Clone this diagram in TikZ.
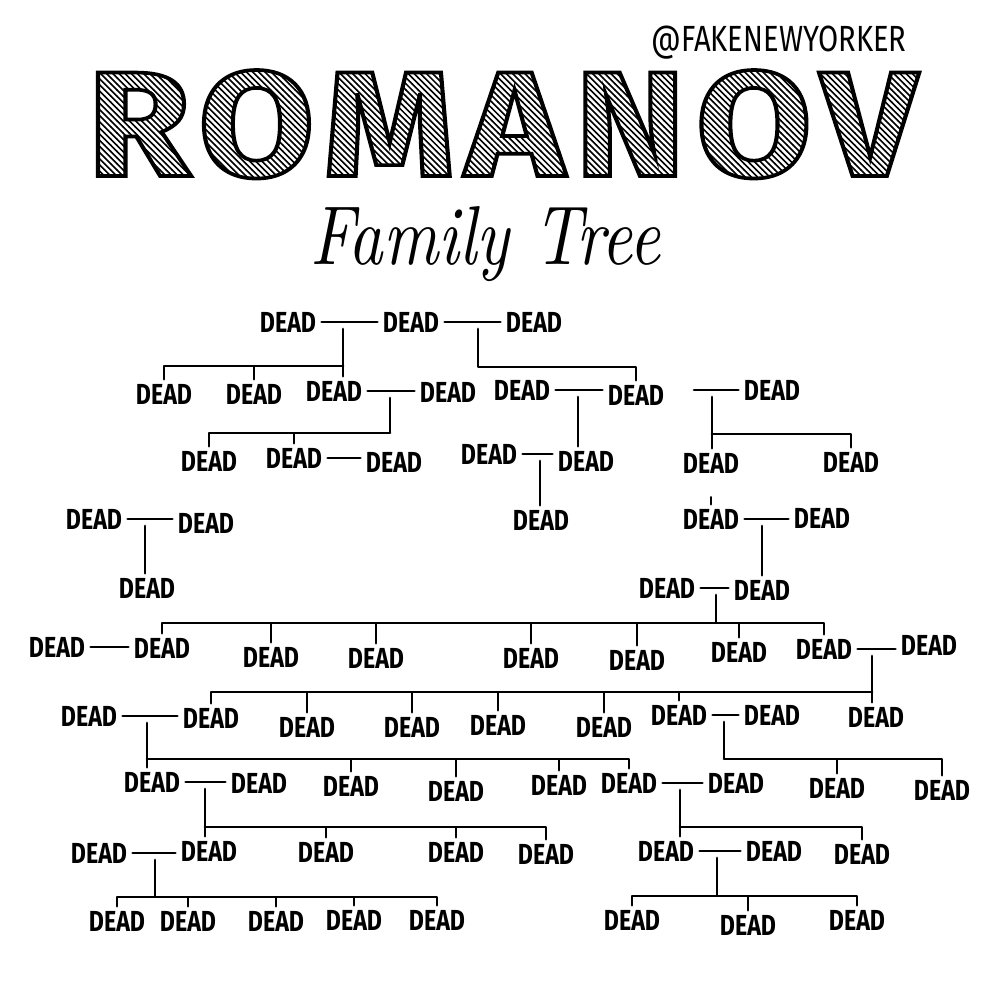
\documentclass[tikz,border=0pt]{standalone}
\usepackage{fontspec}
\usepackage{graphicx}
\usetikzlibrary{positioning,patterns}
\newfontfamily\deadfont[FakeStretch=0.8]{Fira Sans}
\newfontfamily\titlefont[LetterSpace=6]{Fira Sans}
\pgfdeclarepatternformonly{hatch}{\pgfqpoint{-1pt}{-1pt}}{\pgfqpoint{4.5pt}{4.5pt}}{\pgfqpoint{3.5pt}{3.5pt}}
    {\pgfsetlinewidth{0.9pt}\pgfpathmoveto{\pgfqpoint{-0.1pt}{3.6pt}}\pgfpathlineto{\pgfqpoint{3.6pt}{-0.1pt}}\pgfusepath{stroke}}
\newcommand\hatchtext[1]{{\pgfsetfillpattern{hatch}{black}\special{pdf:literal direct 2 Tr 2.2 w 0 G}#1\special{pdf:literal direct 0 Tr}}}

\begin{document}
\begin{tikzpicture}[x=0.02cm, y=-0.02cm,
            dead/.style={font=\deadfont\bfseries\fontsize{16.5}{18}\selectfont,
                         inner xsep=3pt, inner ysep=2.5pt},
            line/.style={line width=1.6pt, line cap=round, line join=round},
            title/.style={anchor=base, inner sep=0pt}
        ]
            \useasboundingbox (0,0) rectangle (1000,1000);

            \node[title] (tag) at (779,52)
                {\resizebox{5.1cm}{!}{\deadfont @FAKENEWYORKER}};
            \node[title] (romanov) at (502,176)
                {\resizebox{16.6cm}{2.12cm}{\titlefont\bfseries\fontsize{90}{90}\selectfont
                 \hatchtext{ROMANOV}}};
            \node[title] (sub) at (485,264)
                {\resizebox{7.0cm}{1.16cm}{\itshape Family Tree}};

            \node[dead] (a1) at (288,322) {DEAD};
            \node[dead] (a2) at (411,322) {DEAD};
            \node[dead] (a3) at (534,322) {DEAD};

            \node[dead] (b1) at (164,394) {DEAD};
            \node[dead] (b2) at (254,394) {DEAD};
            \node[dead] (b3) at (334,391) {DEAD};
            \node[dead] (b4) at (448,392) {DEAD};
            \node[dead] (b5) at (522,390) {DEAD};
            \node[dead] (b6) at (636,395) {DEAD};
            \node[dead] (b7) at (772,390) {DEAD};

            \node[dead] (c1) at (209,461) {DEAD};
            \node[dead] (c2) at (294,458) {DEAD};
            \node[dead] (c3) at (394,462) {DEAD};
            \node[dead] (c4) at (489,454) {DEAD};
            \node[dead] (c5) at (586,461) {DEAD};
            \node[dead] (c6) at (711,463) {DEAD};
            \node[dead] (c7) at (851,462) {DEAD};

            \node[dead] (d1) at (94,519)  {DEAD};
            \node[dead] (d2) at (206,523) {DEAD};
            \node[dead] (d3) at (541,520) {DEAD};
            \node[dead] (d4) at (711,519) {DEAD};
            \node[dead] (d5) at (822,518) {DEAD};

            \node[dead] (e1) at (147,588) {DEAD};
            \node[dead] (e2) at (667,588) {DEAD};
            \node[dead] (e3) at (762,590) {DEAD};

            \node[dead] (f1) at (57,647)  {DEAD};
            \node[dead] (f2) at (162,648) {DEAD};
            \node[dead] (f3) at (271,657) {DEAD};
            \node[dead] (f4) at (376,658) {DEAD};
            \node[dead] (f5) at (531,658) {DEAD};
            \node[dead] (f6) at (637,660) {DEAD};
            \node[dead] (f7) at (739,652) {DEAD};
            \node[dead] (f8) at (824,649) {DEAD};
            \node[dead] (f9) at (929,645) {DEAD};

            \node[dead] (g1) at (89,716)  {DEAD};
            \node[dead] (g2) at (211,718) {DEAD};
            \node[dead] (g3) at (307,727) {DEAD};
            \node[dead] (g4) at (412,727) {DEAD};
            \node[dead] (g5) at (498,725) {DEAD};
            \node[dead] (g6) at (604,727) {DEAD};
            \node[dead] (g7) at (679,715) {DEAD};
            \node[dead] (g8) at (772,715) {DEAD};
            \node[dead] (g9) at (876,717) {DEAD};

            \node[dead] (h1) at (152,782) {DEAD};
            \node[dead] (h2) at (259,783) {DEAD};
            \node[dead] (h3) at (351,786) {DEAD};
            \node[dead] (h4) at (456,791) {DEAD};
            \node[dead] (h5) at (559,785) {DEAD};
            \node[dead] (h6) at (629,783) {DEAD};
            \node[dead] (h7) at (736,783) {DEAD};
            \node[dead] (h8) at (837,788) {DEAD};
            \node[dead] (h9) at (942,790) {DEAD};

            \node[dead] (i1) at (99,853)  {DEAD};
            \node[dead] (i2) at (209,851) {DEAD};
            \node[dead] (i3) at (326,852) {DEAD};
            \node[dead] (i4) at (456,852) {DEAD};
            \node[dead] (i5) at (546,854) {DEAD};
            \node[dead] (i6) at (666,851) {DEAD};
            \node[dead] (i7) at (774,851) {DEAD};
            \node[dead] (i8) at (862,854) {DEAD};

            \node[dead] (j1) at (117,921) {DEAD};
            \node[dead] (j2) at (188,921) {DEAD};
            \node[dead] (j3) at (276,921) {DEAD};
            \node[dead] (j4) at (354,920) {DEAD};
            \node[dead] (j5) at (437,920) {DEAD};
            \node[dead] (j6) at (632,920) {DEAD};
            \node[dead] (j7) at (748,925) {DEAD};
            \node[dead] (j8) at (857,920) {DEAD};

            \coordinate (b0) at (694,390);

            \coordinate (ab) at (343,329);  \coordinate (abk) at (343,366);
            \coordinate (ac) at (478,329);  \coordinate (ack) at (478,367);
            \coordinate (bd) at (390,398);  \coordinate (bdk) at (390,433);
            \coordinate (bf) at (578,397);
            \coordinate (bg) at (712,397);  \coordinate (bgk) at (712,434);
            \coordinate (cd) at (540,461);
            \coordinate (da) at (145,526);
            \coordinate (dd) at (762,526);
            \coordinate (ee) at (716,595);  \coordinate (eek) at (716,623);
            \coordinate (ff) at (872,656);  \coordinate (ffk) at (872,692);
            \coordinate (ga) at (147,723);  \coordinate (gak) at (147,759);
            \coordinate (gh) at (724,722);  \coordinate (ghk) at (724,759);
            \coordinate (ha) at (205,789);  \coordinate (hak) at (205,827);
            \coordinate (hg) at (680,790);  \coordinate (hgk) at (680,827);
            \coordinate (ia) at (155,860);  \coordinate (iak) at (155,897);
            \coordinate (ig) at (717,858);  \coordinate (igk) at (717,896);

            \draw[line] (a1.east) -- (a1.east -| a2.west);
            \draw[line] (a2.east) -- (a2.east -| a3.west);
            \draw[line] (b3.east) -- (b3.east -| b4.west);
            \draw[line] (b5.east) -- (b5.east -| b6.west);
            \draw[line] (b0) -- (b0 -| b7.west);
            \draw[line] (c2.east) -- (c2.east -| c3.west);
            \draw[line] (c4.east) -- (c4.east -| c5.west);
            \draw[line] (d1.east) -- (d1.east -| d2.west);
            \draw[line] (d4.east) -- (d4.east -| d5.west);
            \draw[line] (e2.east) -- (e2.east -| e3.west);
            \draw[line] (f1.east) -- (f1.east -| f2.west);
            \draw[line] (f8.east) -- (f8.east -| f9.west);
            \draw[line] (g1.east) -- (g1.east -| g2.west);
            \draw[line] (g7.east) -- (g7.east -| g8.west);
            \draw[line] (h1.east) -- (h1.east -| h2.west);
            \draw[line] (h6.east) -- (h6.east -| h7.west);
            \draw[line] (i1.east) -- (i1.east -| i2.west);
            \draw[line] (i6.east) -- (i6.east -| i7.west);

            \draw[line] (ab) -- (ab |- b3.north) (abk) -| (b1.north) (abk) -| (b2.north);
            \draw[line] (ac) -- (ack) -| (b6.north);
            \draw[line] (bd) -- (bdk) -| (c1.north) (bdk) -| (c2.north);
            \draw[line] (bf) -- (bf |- c5.north);
            \draw[line] (bg) -- (bg |- c6.north) (bgk) -| (c7.north);
            \draw[line] (cd) -- (cd |- d3.north);
            \draw[line] (d4.north) -- ++(0,-7);
            \draw[line] (da) -- (da |- e1.north);
            \draw[line] (dd) -- (dd |- e3.north);
            \draw[line] (ee) -- (eek) -| (f2.north) (eek) -| (f3.north) (eek) -| (f4.north)
                        (eek) -| (f5.north) (eek) -| (f6.north) (eek) -| (f7.north)
                        (eek) -| (f8.north);
            \draw[line] (ff) -- (ff |- g9.north) (ffk) -| (g2.north) (ffk) -| (g3.north)
                        (ffk) -| (g4.north) (ffk) -| (g5.north) (ffk) -| (g6.north)
                        (ffk) -| (g7.north);
            \draw[line] (ga) -- (ga |- h1.north) (gak) -| (h3.north) (gak) -| (h4.north)
                        (gak) -| (h5.north) (gak) -| (h6.north);
            \draw[line] (gh) -- (ghk) -| (h8.north) (ghk) -| (h9.north);
            \draw[line] (ha) -- (ha |- i2.north) (hak) -| (i3.north) (hak) -| (i4.north)
                        (hak) -| (i5.north);
            \draw[line] (hg) -- (hg |- i6.north) (hgk) -| (i8.north);
            \draw[line] (ia) -- (iak) -| (j1.north) (iak) -| (j2.north) (iak) -| (j3.north)
                        (iak) -| (j4.north) (iak) -| (j5.north);
            \draw[line] (ig) -- (igk) -| (j6.north) (igk) -| (j7.north) (igk) -| (j8.north);

        \end{tikzpicture}
\end{document}
